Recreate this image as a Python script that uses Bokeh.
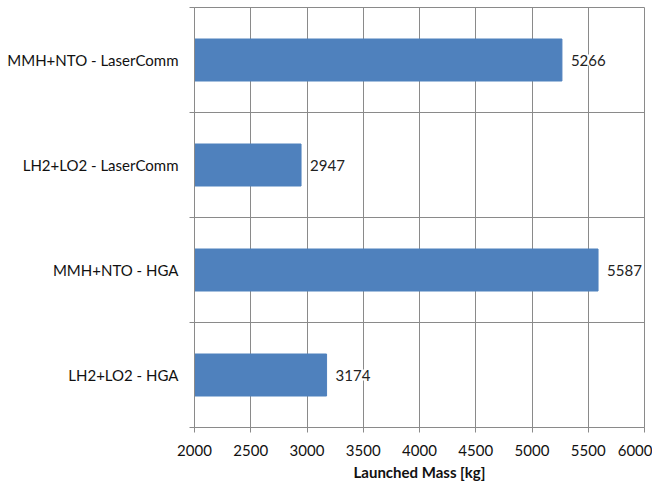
from bokeh.plotting import figure
from bokeh.models import Range1d, FixedTicker, ColumnDataSource, LabelSet
from bokeh.core.properties import value
from bokeh.embed import file_html
from bokeh.resources import INLINE

categories = ["MMH+NTO - LaserComm", "LH2+LO2 - LaserComm", "MMH+NTO - HGA", "LH2+LO2 - HGA"]
masses = [5266, 2947, 5587, 3174]
x_ticks = [2000, 2500, 3000, 3500, 4000, 4500, 5000, 5500, 6000]

n = len(categories)
ypos = [n - i - 0.5 for i in range(n)]
src = ColumnDataSource(dict(y=ypos, m=masses, lbl=[str(v) for v in masses], base=[x_ticks[0]] * n))

FONT = "Lato"
GRID = "#8a8a8a"

p = figure(frame_width=450, frame_height=420, output_backend="svg", toolbar_location=None,
           x_range=Range1d(x_ticks[0], x_ticks[-1]), y_range=Range1d(0, n),
           min_border_left=194, min_border_right=8, min_border_top=7, min_border_bottom=10)
p.outline_line_color = GRID

p.hbar(y="y", left="base", right="m", height=0.4, source=src,
       fill_color="#4F81BD", line_color="#4F81BD")

labels = LabelSet(x="m", y="y", text="lbl", source=src, x_offset=9,
                  text_baseline="middle", text_font=value(FONT), text_font_size="15px",
                  text_color="#222222", background_fill_color="white",
                  border_line_color=None)
p.add_layout(labels)

# x axis
p.xaxis.ticker = FixedTicker(ticks=x_ticks)
p.xaxis.axis_line_color = GRID
p.xaxis.major_tick_line_color = GRID
p.xaxis.major_tick_out = 5
p.xaxis.major_tick_in = 0
p.xaxis.minor_tick_line_color = None
p.xaxis.major_label_text_font = FONT
p.xaxis.major_label_text_font_size = "15px"
p.xaxis.major_label_text_color = "#111111"
p.xaxis.major_label_standoff = 12
p.xaxis.axis_label = "Launched Mass [kg]"
p.xaxis.axis_label_text_font = FONT
p.xaxis.axis_label_text_font_size = "15px"
p.xaxis.axis_label_text_font_style = "bold"
p.xaxis.axis_label_text_color = "#111111"
p.xaxis.axis_label_standoff = 4

# y axis
p.yaxis.ticker = FixedTicker(ticks=ypos, minor_ticks=list(range(n + 1)))
p.yaxis.major_label_overrides = {y: c for y, c in zip(ypos, categories)}
p.yaxis.axis_line_color = GRID
p.yaxis.major_tick_line_color = None
p.yaxis.major_tick_out = 0
p.yaxis.major_tick_in = 0
p.yaxis.minor_tick_line_color = GRID
p.yaxis.minor_tick_out = 5
p.yaxis.minor_tick_in = 0
p.yaxis.major_label_text_font = FONT
p.yaxis.major_label_text_font_size = "15px"
p.yaxis.major_label_text_color = "#111111"
p.yaxis.major_label_standoff = 11

# grids
p.xgrid.grid_line_color = GRID
p.xgrid.ticker = FixedTicker(ticks=x_ticks)
p.ygrid.grid_line_color = None
p.ygrid.minor_grid_line_color = GRID

open("out.html", "w").write(file_html(p, INLINE))
